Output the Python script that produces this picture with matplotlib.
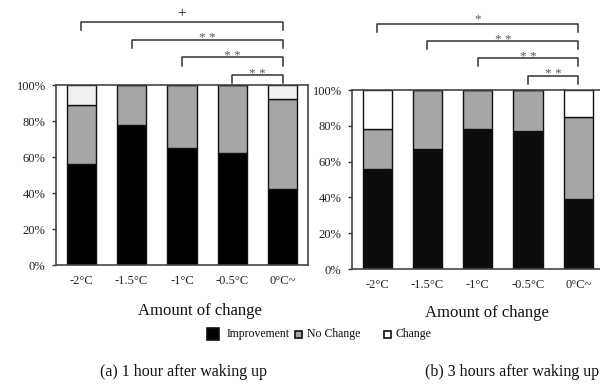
import matplotlib.pyplot as plt
from matplotlib.patches import Rectangle
import numpy as np

plt.rcParams['font.family'] = ['Liberation Serif', 'DejaVu Serif']

categories = ['-2°C', '-1.5°C', '-1°C', '-0.5°C', '0°C~']

# (a) 1 hour after waking up, percentages
a_improve = [56, 78, 65, 62, 42]
a_nochange = [33, 22, 35, 38, 50]
a_change = [11, 0, 0, 0, 8]

# (b) 3 hours after waking up, percentages
b_improve = [56, 67, 78, 77, 39]
b_nochange = [22, 33, 22, 23, 46]
b_change = [22, 0, 0, 0, 15]

# significance against the 0°C~ group, innermost bracket first
a_sig = [(3, 4, '* *'), (2, 4, '* *'), (1, 4, '* *'), (0, 4, '+')]
b_sig = [(3, 4, '* *'), (2, 4, '* *'), (1, 4, '* *'), (0, 4, '*')]

W, H = 600, 385
fig = plt.figure(figsize=(W / 100, H / 100), dpi=100)


def px_axes(x0, y0, x1, y1):
    return fig.add_axes([x0 / W, 1 - y1 / H, (x1 - x0) / W, (y1 - y0) / H])


def draw_panel(ax, improve, nochange, change, sig, black, light, base, step, lab_x, lab_y):
    x = np.arange(len(categories))
    improve = np.array(improve)
    nochange = np.array(nochange)
    change = np.array(change)
    kw = dict(width=0.58, edgecolor='#111111', linewidth=1.0)
    ax.bar(x, improve, color=black, **kw)
    ax.bar(x, nochange, bottom=improve, color='#a6a6a6', **kw)
    ax.bar(x, change, bottom=improve + nochange, color=light, **kw)

    ax.set_xlim(-0.5, 4.5)
    ax.set_ylim(0, 100)
    ax.set_yticks(range(0, 101, 20))
    ax.set_yticklabels([f'{v}%' for v in range(0, 101, 20)])
    ax.set_xticks(x)
    ax.set_xticklabels(categories)
    ax.tick_params(axis='y', direction='out', length=3, width=1, pad=4.5,
                   labelsize=9, colors='#333333', labelcolor='#222222')
    ax.tick_params(axis='x', length=0, pad=7.5, labelsize=9, labelcolor='#222222')
    for s in ax.spines.values():
        s.set_color('#444444')
        s.set_linewidth(1.2)

    for i, (l, r, mark) in enumerate(sig):
        y = base + step * i
        ax.plot([l, l, r, r], [y - 4.5, y, y, y - 4.5], color='#333333',
                lw=1.1, clip_on=False)
        if mark == '+':
            ax.text((l + r) / 2, y + 5, mark, ha='center', va='center',
                    fontsize=11, color='#111111', clip_on=False)
        else:
            off = 0.8 if len(mark) > 1 else 2.2
            ax.text((l + r) / 2, y + off, mark, ha='center', va='center',
                    fontsize=9.5, color='#555555', clip_on=False)

    ax.text(lab_x, lab_y, 'Amount of change', transform=ax.transAxes,
            ha='center', va='center', fontsize=12, color='#111111')


ax_a = px_axes(56, 85, 308, 265)
draw_panel(ax_a, a_improve, a_nochange, a_change, a_sig, '#000000', '#f0f0f0',
           105.5, 9.8, 0.571, -0.256)

ax_b = px_axes(352, 90, 603.5, 269)
draw_panel(ax_b, b_improve, b_nochange, b_change, b_sig, '#0d0d0d', '#ffffff',
           108, 9.7, 0.537, -0.246)

# shared legend under the panels
legend = [('Improvement', '#000000', 207, 12, 227),
          ('No Change', '#a6a6a6', 295, 7, 307),
          ('Change', '#ffffff', 384, 7, 395)]
ly = 334
for label, color, sx, size, tx in legend:
    fig.patches.append(Rectangle((sx / W, 1 - (ly + size / 2) / H), size / W, size / H,
                                 transform=fig.transFigure, facecolor=color,
                                 edgecolor='#111111', linewidth=1.2))
    fig.text(tx / W, 1 - ly / H, label, ha='left', va='center', fontsize=8.5,
             color='#111111')

fig.text(100 / W, 1 - 372 / H, '(a) 1 hour after waking up', ha='left',
         va='center', fontsize=11.5, color='#111111')
fig.text(425 / W, 1 - 372 / H, '(b) 3 hours after waking up', ha='left',
         va='center', fontsize=11.5, color='#111111')

fig.savefig('out.png', dpi=100)
